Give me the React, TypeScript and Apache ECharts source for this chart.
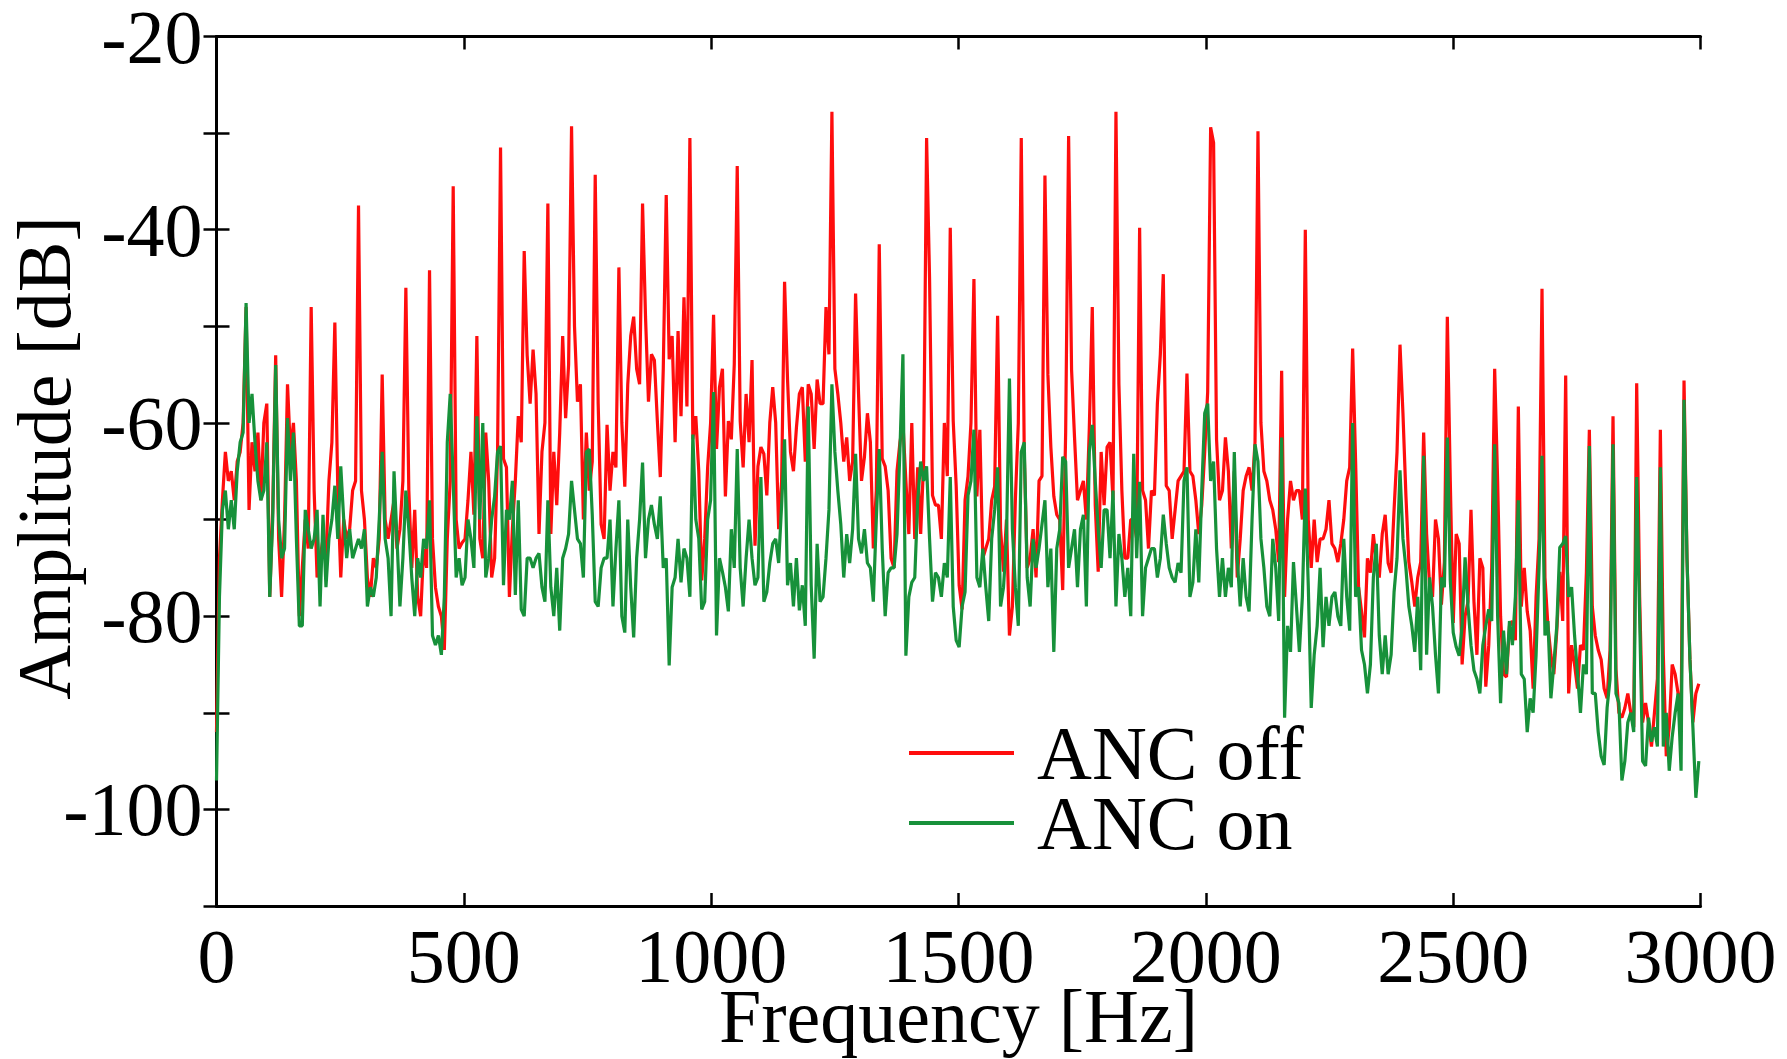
import React, { useEffect, useRef } from "react";
import * as echarts from "echarts";

// Spectral bin spacing: 1/8 of the 47.85 Hz fundamental (harmonics fall on every 8th bin)
const BIN_HZ = 5.98125;
const BIN_COUNT = 502;
const freqHz: number[] = Array.from({ length: BIN_COUNT }, (_, i) => +(i * BIN_HZ).toFixed(2));

const seriesNames = ["ANC off", "ANC on"];
const xTicks = [0, 500, 1000, 1500, 2000, 2500, 3000];
const yTickLabels = [-20, -40, -60, -80, -100];
const xTitle = "Frequency [Hz]";
const yTitle = "Amplitude [dB]";

// ANC off amplitude [dB], one value per bin
const ancOffDb: number[] = [
  -92, -74, -68, -63, -66, -65, -68, -64,
  -63, -60, -48, -69, -62, -65, -61, -68,
  -60, -58, -78, -69, -53, -72, -78, -70,
  -56, -63, -60, -66, -80, -75, -70, -73,
  -48, -67, -76, -74, -72, -74, -66, -62,
  -49.6, -67, -76, -70, -72, -71, -67, -66,
  -37.5, -67, -70, -76, -78, -74, -75, -72,
  -55, -70, -72, -70, -68, -73, -71, -66,
  -46, -67, -75, -69, -78, -80, -73, -75,
  -44.2, -72, -77, -79, -80, -83.5, -72, -66,
  -35.5, -70, -73, -72.4, -72, -68, -63, -69.5,
  -51, -72, -74, -61, -66, -76, -74, -63,
  -31.5, -63.7, -64.6, -78, -71, -66, -59.3, -62,
  -42.2, -53, -58, -52.4, -57, -71.5, -63, -60,
  -37.3, -71.5, -63, -68.5, -61, -51, -59.5, -54,
  -29.3, -50, -57.8, -56, -70, -61, -67, -64,
  -34.3, -58, -70.5, -72, -60.2, -67, -63, -64.6,
  -43.9, -60, -66.6, -56, -51, -49, -54.4, -56,
  -37.3, -49, -57.8, -52.9, -53.5, -59.8, -65.6, -54.4,
  -36.4, -53.4, -51, -62, -50.5, -59.3, -47, -58.3,
  -30.5, -61.7, -59.3, -65, -76.3, -72, -64.6, -60,
  -48.8, -62.7, -56.3, -54.4, -67.6, -59.8, -61.7, -53.9,
  -33.4, -59.8, -64.6, -57, -62, -53.5, -72.7, -64.5,
  -62.5, -63.2, -67.5, -60, -56.3, -60, -71, -66,
  -45.4, -55.5, -63, -65, -60.5, -57, -56.3, -64,
  -56, -57, -62.7, -55.5, -58, -58, -48, -52.9,
  -27.8, -54.4, -57, -60, -64, -61.5, -66, -64,
  -46.6, -57, -66, -63.5, -59, -62, -73, -67,
  -41.5, -63.7, -64.5, -67, -74, -75, -65, -62,
  -60, -66, -71.5, -60, -72, -64.6, -71.5, -64,
  -30.5, -45, -67.5, -68.5, -68.5, -72, -60, -65.5,
  -39.8, -59.8, -66.5, -76.8, -79.3, -68, -65.5, -60,
  -45.1, -67.6, -60.7, -74, -73, -72, -68, -66.6,
  -48.9, -71, -75.4, -70, -82, -79, -68, -60,
  -30.5, -63, -75, -74, -71, -76, -66, -65.5,
  -34.4, -55, -62.5, -67.6, -69.5, -70, -77.3, -61,
  -30.3, -54.5, -61.5, -68, -67, -66, -70, -60.5,
  -48, -68.5, -75.4, -63, -68.5, -62.5, -62, -68,
  -27.8, -56, -67, -74, -74, -70, -70, -72,
  -39.8, -67, -68, -73, -67, -67.5, -58, -52.9,
  -44.6, -66.5, -67, -72, -69, -66, -65.5, -65,
  -54.9, -65, -65.5, -68, -71.5, -68.5, -63, -56.8,
  -29.4, -31, -61.7, -68, -67, -61.5, -65, -73,
  -65, -76, -72, -67, -65.5, -64.6, -67, -62,
  -29.8, -60, -65, -66, -68, -69, -71, -74.4,
  -54.6, -78, -70, -66, -68, -67, -67, -70,
  -40, -70, -75, -70, -74.4, -72, -72, -71,
  -68, -72.5, -73, -74.4, -72.5, -70, -66, -64.6,
  -52.3, -64, -77, -79.5, -82.2, -74, -75.5, -71.5,
  -74.4, -76, -71.5, -69.5, -74.5, -75.5, -69, -63,
  -51.9, -59, -67.5, -74.4, -76.5, -79, -76, -74.4,
  -61, -71.5, -76.8, -78, -70, -72, -78.8, -74.4,
  -49, -66, -80.7, -71.5, -72.5, -85, -80, -78.5,
  -69, -78.5, -84, -74, -75, -87.3, -83, -75,
  -54.4, -66, -80, -86, -86.3, -81, -80.5, -82.5,
  -58.3, -79, -75, -79.5, -81.5, -87.5, -78, -72,
  -46.1, -76, -81, -84, -86, -81.5, -75.4, -80.5,
  -55.1, -88, -83, -85, -87.5, -83, -83.5, -75.5,
  -60.7, -79, -82, -83.5, -84.5, -87.5, -88.5, -83.5,
  -59.3, -85.5, -90, -90.5, -89.5, -88, -90, -91.5,
  -55.9, -78, -91, -89, -91, -93.5, -90, -86.5,
  -60.7, -84, -94.5, -91.5, -85, -86, -88, -91,
  -55.6, -74, -84.5, -91, -88, -87,
];

// ANC on amplitude [dB], one value per bin
const ancOnDb: number[] = [
  -97, -78, -69, -67, -71, -68, -71, -65,
  -62, -61, -47.6, -60, -57, -62, -66, -68,
  -67, -62, -78, -70, -54, -70, -74, -73,
  -59.5, -66, -61, -72, -81, -81, -69, -71,
  -73, -72, -69, -79, -69.5, -77, -72, -70,
  -66.5, -72, -64.5, -70, -74, -71, -74, -73,
  -72, -73, -71, -79, -77, -78, -76, -70,
  -63, -72, -74, -80, -65, -72, -79, -74,
  -67, -71, -76, -80, -74, -76, -72, -73,
  -68, -82, -83, -82, -84, -78, -62, -57,
  -66, -76, -74, -76.8, -76, -70, -72, -75,
  -59.3, -70, -60, -76, -74, -70, -67.6, -63,
  -62.4, -76.8, -69, -70, -66, -77.8, -68, -79.3,
  -80, -74, -74, -75, -74, -73.5, -77, -78.5,
  -68, -77, -80, -75, -81.5, -74, -73, -71.5,
  -66, -69, -72, -72.5, -76, -63, -62.7, -69.5,
  -78.5, -79, -75, -74, -74, -70, -79, -73,
  -68, -80, -81.7, -70, -77, -82.2, -74, -70,
  -64.1, -74, -70, -68.5, -70.5, -72, -67.6, -75,
  -74, -85.1, -77, -76, -72, -76.5, -73, -74,
  -78, -61.2, -70, -72, -79.3, -78.5, -70, -68,
  -56.8, -82, -74, -75.4, -77, -79.5, -71, -75,
  -62.7, -75, -79, -74, -70, -74, -76.8, -76,
  -65.6, -78.5, -77.5, -74.5, -72.5, -72, -74.5, -68.5,
  -61.7, -76.8, -74.5, -79, -74, -79.4, -76.8, -81,
  -58.3, -76.8, -84.4, -72.5, -78.5, -78, -74, -69,
  -56, -63, -67, -70.5, -76, -71.5, -74.5, -71,
  -63.2, -72, -73.5, -71, -74.5, -75, -78.5, -70,
  -62.7, -73, -80, -75.5, -75, -75, -71.5, -62.7,
  -52.9, -84.1, -78, -76.5, -76, -68, -64, -66,
  -64.5, -72, -78.5, -75.5, -76, -78, -74.5, -76,
  -65.6, -79, -82.5, -83.2, -79, -77.5, -67.5, -66,
  -60.7, -76, -77, -73, -77, -80.5, -72, -69,
  -64.6, -79, -77, -72, -55.4, -71, -77, -81,
  -63, -62, -76, -79, -72, -75, -73, -70.5,
  -68, -77, -73, -83.7, -73, -71, -63.5, -64,
  -75, -73, -71, -77, -71, -69.5, -79, -63,
  -60.2, -66, -71, -75, -69, -69, -74, -67,
  -79, -71.5, -74, -78, -75, -80, -63.2, -74,
  -66.1, -80, -75, -74, -73, -73, -76, -74,
  -69.5, -72.5, -75, -76, -76.5, -74.5, -75.5, -66,
  -64.6, -78, -76.5, -71, -76.5, -67, -59, -58,
  -66, -64, -73, -78, -74, -78, -75, -77,
  -63, -74, -79, -74, -78, -79.5, -70, -62.2,
  -64, -72, -75, -79, -80, -72, -75, -80.5,
  -61.5, -90.5, -81, -83.7, -74.4, -79, -83.7, -78,
  -66.8, -76.8, -89.5, -84, -81, -75, -83.2, -78,
  -81, -78, -77.5, -80, -81, -72, -78, -81.5,
  -60, -78, -77, -83.5, -85, -88, -85, -76,
  -72.5, -82, -86, -82, -86, -84, -77.5, -74,
  -64.9, -72, -75, -79, -81, -83.7, -78, -85.6,
  -63.4, -84, -76, -79, -84, -88, -76, -77,
  -61.5, -76.3, -81.7, -83.2, -84.1, -81, -73.9, -79,
  -83, -85.6, -86.5, -88, -83, -81, -79.3, -80.5,
  -62.2, -80, -89, -81.5, -86, -80.5, -83, -78,
  -68, -86, -86.5, -92, -88.5, -90, -84, -75,
  -63.4, -82, -80.5, -88.5, -85, -81, -72.9, -72.5,
  -71.7, -78, -77, -82, -86, -90, -85, -86,
  -62.4, -88, -88, -92, -94.5, -95.4, -89.5, -86.5,
  -62.2, -88, -89, -97, -95, -91, -90, -92,
  -65.6, -80, -95, -95.5, -90.5, -93, -91.5, -93.5,
  -64.6, -93.5, -90, -96, -92.5, -90, -88, -96,
  -57.6, -74, -84.5, -91.5, -98.8, -95,
];

const FONT = "'Liberation Serif', 'Times New Roman', serif";
const RED = "#ff0d0d";
const GREEN = "#17913a";

export default function App() {
  const ref = useRef<HTMLDivElement>(null);

  useEffect(() => {
    if (!ref.current) return;
    const chart = echarts.init(ref.current, undefined, { renderer: "svg" });
    const toPairs = (vals: number[]) => freqHz.map((f, i) => [f, vals[i]]);
    const tickStyle = { inside: true, length: 13, lineStyle: { color: "#000", width: 2.5 } };
    const lineStyleAxis = { show: true, lineStyle: { color: "#000", width: 3 } };

    chart.setOption({
      animation: false,
      backgroundColor: "#fff",
      grid: {
        left: 216.5,
        right: 86.5,
        top: 36.5,
        bottom: 153,
        containLabel: false,
        outerBoundsMode: "none",
      },
      xAxis: [
        {
          type: "value",
          min: xTicks[0],
          max: xTicks[xTicks.length - 1],
          interval: 500,
          axisLine: lineStyleAxis,
          axisTick: tickStyle,
          axisLabel: {
            fontFamily: FONT,
            fontSize: 76,
            color: "#000",
            margin: 12,
            formatter: (v: number) => String(v),
          },
          splitLine: { show: false },
        },
        {
          type: "value",
          position: "top",
          min: xTicks[0],
          max: xTicks[xTicks.length - 1],
          interval: 500,
          axisLine: lineStyleAxis,
          axisTick: tickStyle,
          axisLabel: { show: false },
          splitLine: { show: false },
        },
      ],
      yAxis: [
        {
          type: "value",
          min: -110,
          max: -20,
          interval: 10,
          axisLine: lineStyleAxis,
          axisTick: tickStyle,
          axisLabel: {
            fontFamily: FONT,
            fontSize: 76,
            lineHeight: 60,
            color: "#000",
            margin: 14,
            formatter: (v: number) => (yTickLabels.includes(v) ? String(v) : ""),
          },
          splitLine: { show: false },
        },
        {
          type: "value",
          position: "right",
          min: -110,
          max: -20,
          interval: 10,
          axisLine: lineStyleAxis,
          axisTick: tickStyle,
          axisLabel: { show: false },
          splitLine: { show: false },
        },
      ],
      legend: {
        orient: "vertical",
        left: 909,
        top: 715,
        padding: 0,
        itemGap: -6,
        itemWidth: 105,
        itemHeight: 4,
        icon: "rect",
        data: seriesNames,
        textStyle: {
          fontFamily: FONT,
          fontSize: 76,
          color: "#000",
          padding: [0, 0, 0, 18],
        },
      },
      graphic: [
        {
          type: "text",
          x: 44,
          y: 458,
          rotation: Math.PI / 2,
          style: {
            text: yTitle,
            font: `76px ${FONT}`,
            fill: "#000",
            textAlign: "center",
            textVerticalAlign: "middle",
          },
        },
        {
          type: "text",
          x: 958.5,
          y: 1016,
          style: {
            text: xTitle,
            font: `76px ${FONT}`,
            fill: "#000",
            textAlign: "center",
            textVerticalAlign: "middle",
          },
        },
      ],
      series: [
        {
          name: seriesNames[0],
          type: "line",
          data: toPairs(ancOffDb),
          symbol: "none",
          lineStyle: { color: RED, width: 3.2 },
          itemStyle: { color: RED },
          z: 2,
        },
        {
          name: seriesNames[1],
          type: "line",
          data: toPairs(ancOnDb),
          symbol: "none",
          lineStyle: { color: GREEN, width: 3.2 },
          itemStyle: { color: GREEN },
          z: 3,
        },
      ],
    });
    return () => chart.dispose();
  }, []);

  return (
    <div
      ref={ref}
      style={{ position: "fixed", left: 0, top: 0, width: 1787, height: 1059, background: "#fff" }}
    />
  );
}
